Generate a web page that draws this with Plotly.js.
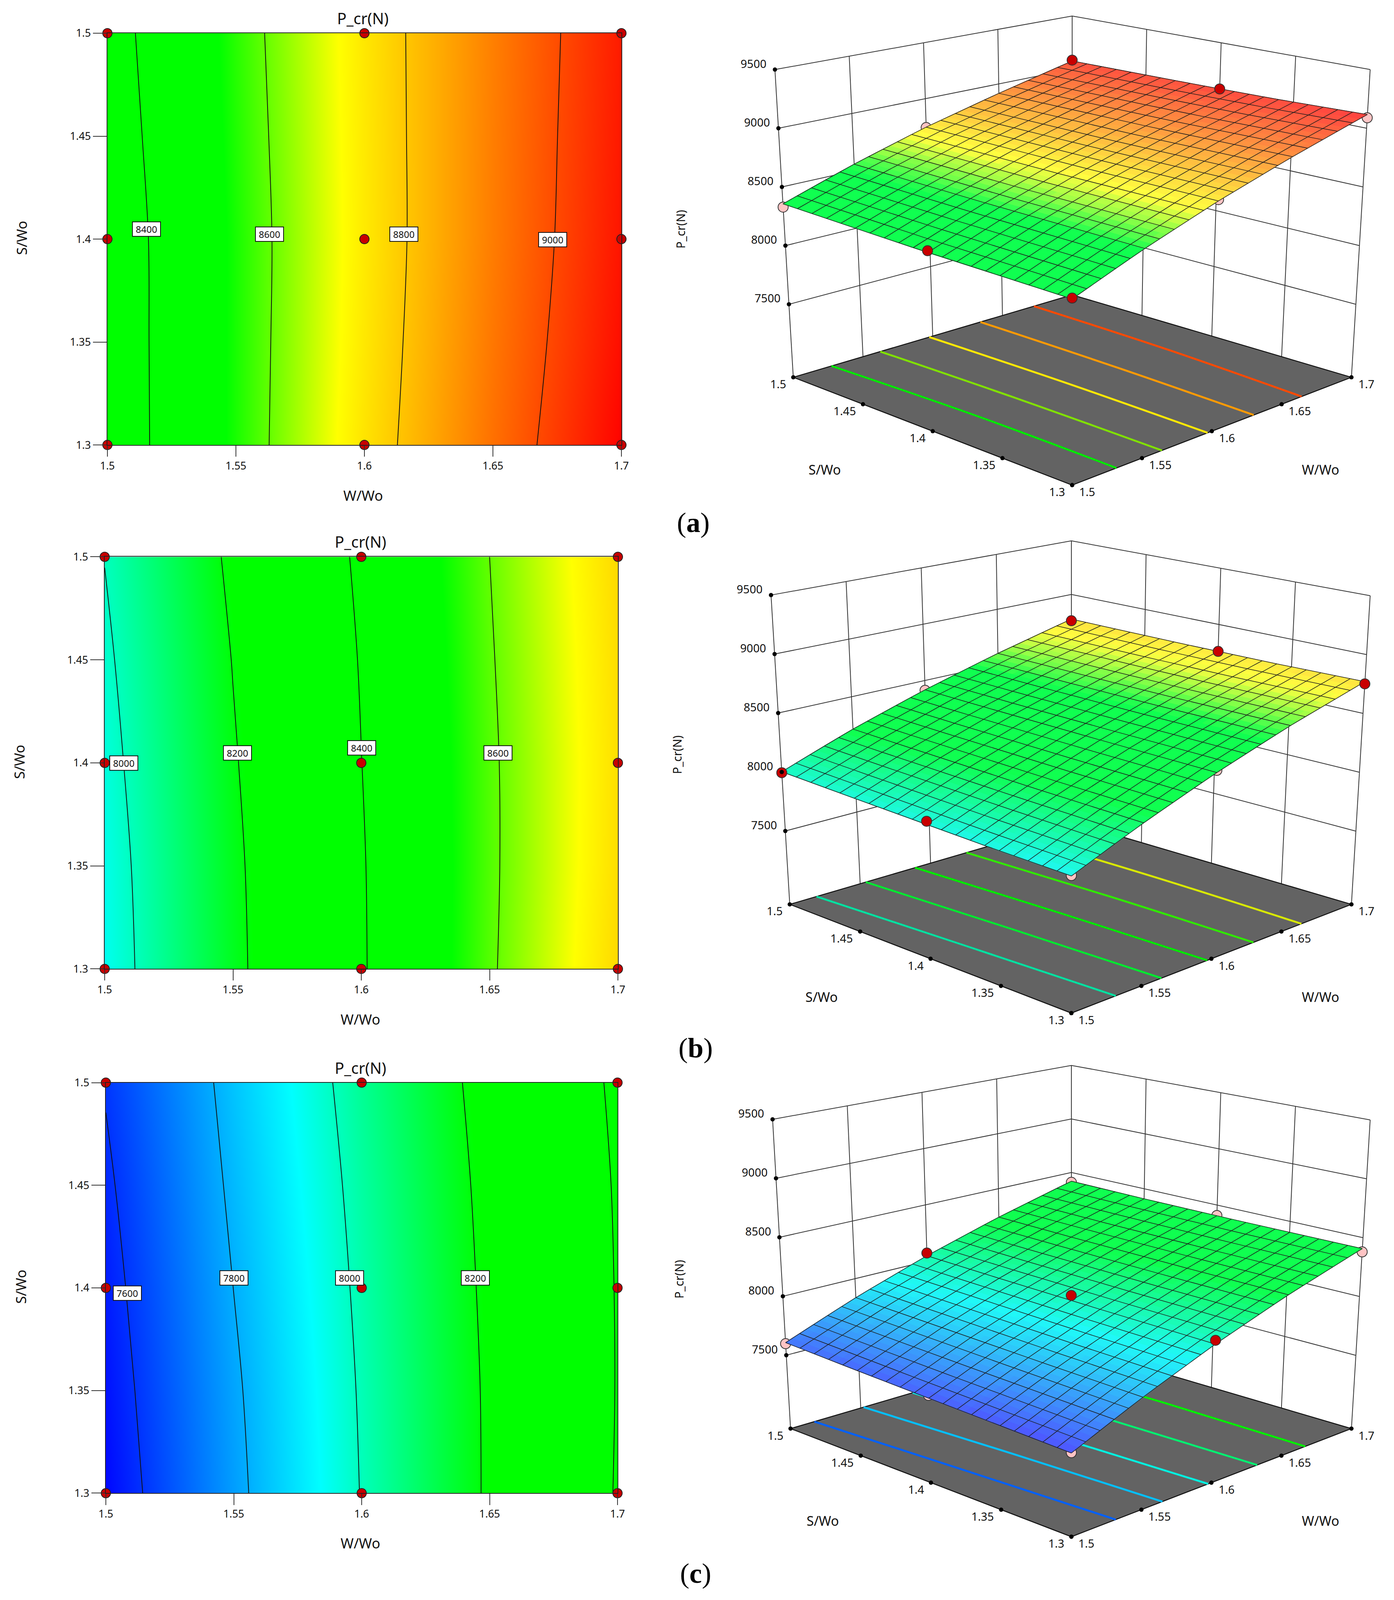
<!DOCTYPE html>
<html>
<head>
<meta charset="utf-8">
<script src="https://cdn.plot.ly/plotly-3.0.1.min.js"></script>
<style>html,body{margin:0;padding:0;background:#fff}</style>
</head>
<body>
<div id="chart"></div>
<script>
const W_GRID = [1.5, 1.55, 1.6, 1.65, 1.7];
const S_GRID = [1.3, 1.35, 1.4, 1.45, 1.5];
const W_TICKS = [1.5, 1.55, 1.6, 1.65, 1.7];
const W_TEXT = ['1.5', '1.55', '1.6', '1.65', '1.7'];
const S_TICKS = [1.3, 1.35, 1.4, 1.45, 1.5];
const S_TEXT = ['1.3', '1.35', '1.4', '1.45', '1.5'];
const Z_TICKS = [7500, 8000, 8500, 9000, 9500];
const Z_TEXT = ['7500', '8000', '8500', '9000', '9500'];
const FLOOR_Z = 6878, TOP_Z = 9500;
const FLOOR_S = [1.3, 1.4, 1.5];

// response, rows are S/Wo, columns W/Wo
const Z_A = [
  [8328, 8547, 8752, 8939, 9117],
  [8330, 8546, 8745, 8928, 9099],
  [8332, 8545, 8741, 8919, 9088],
  [8344, 8551, 8743, 8917, 9082],
  [8356, 8558, 8746, 8914, 9077]
];
const Z_B = [
  [7946, 8175, 8391, 8589, 8770],
  [7953, 8180, 8393, 8586, 8762],
  [7967, 8191, 8399, 8587, 8760],
  [7983, 8203, 8406, 8593, 8763],
  [8002, 8220, 8418, 8600, 8770]
];
const Z_C = [
  [7530, 7773, 8004, 8214, 8407],
  [7546, 7784, 8010, 8215, 8404],
  [7563, 7801, 8020, 8221, 8405],
  [7583, 7819, 8032, 8229, 8409],
  [7607, 7836, 8048, 8241, 8419]
];

const DESIGN_W = [1.5, 1.6, 1.7, 1.5, 1.6, 1.7, 1.5, 1.6, 1.7];
const DESIGN_S = [1.3, 1.3, 1.3, 1.4, 1.4, 1.4, 1.5, 1.5, 1.5];

// design points on the 3D plots: red above the surface, pink below it
const RED_W_A = [1.7, 1.7, 1.5, 1.5];
const RED_S_A = [1.5, 1.4, 1.3, 1.4];
const RED_Z_A = [9085, 9087, 8335, 8347];
const PINK_W_A = [1.5, 1.7, 1.6, 1.6, 1.6];
const PINK_S_A = [1.5, 1.3, 1.5, 1.3, 1.4];
const PINK_Z_A = [8328, 9089, 8742, 8763, 8720];

const RED_W_B = [1.7, 1.7, 1.7, 1.5, 1.5];
const RED_S_B = [1.5, 1.4, 1.3, 1.5, 1.4];
const RED_Z_B = [8755, 8761, 8751, 7994, 7994];
const PINK_W_B = [1.6, 1.6, 1.5, 1.6];
const PINK_S_B = [1.5, 1.3, 1.3, 1.4];
const PINK_Z_B = [8413, 8409, 7950, 8380];

const RED_W_C = [1.6, 1.6, 1.6];
const RED_S_C = [1.5, 1.4, 1.3];
const RED_Z_C = [8072, 8063, 8035];
const PINK_W_C = [1.7, 1.7, 1.7, 1.5, 1.5, 1.5];
const PINK_S_C = [1.5, 1.4, 1.3, 1.5, 1.4, 1.3];
const PINK_Z_C = [8408, 8407, 8379, 7598, 7587, 7533];

// contour lines on the grey floor, W/Wo at S/Wo = 1.3, 1.4, 1.5
const FLOOR_A = [[1.5317, 1.5318, 1.5274], [1.5643, 1.5645, 1.5624], [1.597, 1.5985, 1.5975], [1.63, 1.633, 1.6342], [1.6643, 1.67, 1.6726]];
const FLOOR_COL_A = ['#00e800', '#80e000', '#ffe800', '#ff9a00', '#ff4a00'];
const FLOOR_B = [[1.5317, 1.526, 1.519], [1.5643, 1.56, 1.554], [1.597, 1.594, 1.589], [1.63, 1.629, 1.6255], [1.6643, 1.6655, 1.664]];
const FLOOR_COL_B = ['#00e0a0', '#00e830', '#00e800', '#30e800', '#d8e800'];
const FLOOR_C = [[1.5317, 1.525, 1.517], [1.565, 1.5595, 1.552], [1.5977, 1.593, 1.587], [1.6327, 1.63, 1.626], [1.667, 1.667, 1.665]];
const FLOOR_COL_C = ['#0060ff', '#00c0ff', '#00f0e0', '#00f070', '#00f000'];

const LABELS_A = [['8400', 1.5152, 1.4048], ['8600', 1.563, 1.4023], ['8800', 1.6153, 1.4023], ['9000', 1.6733, 1.3998]];
const LABELS_B = [['8000', 1.5074, 1.3999], ['8200', 1.5518, 1.4049], ['8400', 1.6002, 1.4073], ['8600', 1.6533, 1.4049]];
const LABELS_C = [['7600', 1.5084, 1.3974], ['7800', 1.55, 1.4048], ['8000', 1.5952, 1.4048], ['8200', 1.6444, 1.4048]];

// all y positions below are reference pixels (5106 tall). The window can be shorter
// (the renderer caps it at 4096), so the figure is fitted to it to keep all 3 rows visible.
const PW = 3569, PH = 5106;
const VIEW_H = Math.min(PH, window.innerHeight || PH);
const YS = VIEW_H / PH;
document.getElementById('chart').style.cssText = 'width:' + PW + 'px;height:' + VIEW_H + 'px';
const FONT = 'Noto Sans, Open Sans, sans-serif';
const fx = x => x / PW;
const fy = y => 1 - y / PH;

const CMIN = 7520, CMAX = 9120;
const STOPS = [0, 0.25625, 0.43125, 0.63125, 0.7425, 1];
const COL2D = [[0, 0, 255], [0, 255, 255], [0, 255, 0], [0, 255, 0], [255, 255, 0], [255, 0, 0]];
const COL3D = [[80, 80, 255], [32, 248, 248], [16, 255, 80], [16, 255, 80], [255, 255, 64], [255, 64, 64]];
const toHex = c => 'rgb(' + c.map(Math.round).join(',') + ')';
const MAP2D = STOPS.map((s, i) => [s, toHex(COL2D[i])]);

const panels = [
  { z: Z_A, levels: [8400, 9000], labels: LABELS_A, box: [275, 1591, 106, 1420], title: [929, 58], wt: [929, 1581], st: [56, 759],
    red: [RED_W_A, RED_S_A, RED_Z_A], pink: [PINK_W_A, PINK_S_A, PINK_Z_A], floor: FLOOR_A, floorCol: FLOOR_COL_A,
    // screen corners of the 3D box: near, right, left, far, on the floor and then at the top
    cube: [[2745, 1548], [3460, 1204], [2031, 1204], [2745, 941], [2745, 474], [3508, 222], [1984, 222], [2745, 51]],
    t3: [[2111, 1499], [3381, 1499], [1742, 732]], tag: ['a', 1775, 1668] },
  { z: Z_B, levels: [8000, 8600], labels: LABELS_B, box: [268, 1582, 1777, 3092], title: [923, 1729], wt: [923, 3253], st: [49, 2431],
    red: [RED_W_B, RED_S_B, RED_Z_B], pink: [PINK_W_B, PINK_S_B, PINK_Z_B], floor: FLOOR_B, floorCol: FLOOR_COL_B,
    cube: [[2743, 3233], [3460, 2886], [2022, 2886], [2743, 2623], [2743, 2159], [3508, 1901], [1974, 1899], [2743, 1726]],
    t3: [[2103, 3181], [3381, 3181], [1733, 2409]], tag: ['b', 1781, 3344] },
  { z: Z_C, levels: [7600, 8400], labels: LABELS_C, box: [271, 1581, 3455, 4765], title: [923, 3407], wt: [923, 4925], st: [54, 4106],
    red: [RED_W_C, RED_S_C, RED_Z_C], pink: [PINK_W_C, PINK_S_C, PINK_Z_C], floor: FLOOR_C, floorCol: FLOOR_COL_C,
    cube: [[2743, 4904], [3460, 4559], [2024, 4559], [2743, 4296], [2743, 3830], [3508, 3574], [1978, 3572], [2743, 3400]],
    t3: [[2106, 4853], [3381, 4853], [1738, 4083]], tag: ['c', 1781, 5021] }
];

const traces = [];
const layout = {
  width: PW, height: VIEW_H, margin: { l: 0, r: 0, t: 0, b: 0 }, paper_bgcolor: '#fff', plot_bgcolor: 'rgba(0,0,0,0)',
  showlegend: false, font: { family: FONT, color: '#111' }, annotations: [],
  // hidden axes in reference pixels that carry the projected 3D panels
  xaxis4: { domain: [1700 / PW, 1], range: [1700, PW], visible: false, fixedrange: true, anchor: 'y4' },
  yaxis4: { domain: [0, 1], range: [PH, 0], visible: false, fixedrange: true, anchor: 'x4' }
};

function note(text, x, y, size, extra) {
  layout.annotations.push(Object.assign({ text: text, x: fx(x), y: fy(y), xref: 'paper', yref: 'paper', showarrow: false,
    font: { size: size, family: FONT, color: '#111' }, xanchor: 'center', yanchor: 'middle' }, extra || {}));
}

// gl3d scenes time out in this renderer, so the 3D panels are projected onto 2D axes:
// trilinear map from (W, S, Z) to the screen, through the eight box corners
function project(c, w, s, z) {
  const u = (w - 1.5) / 0.2, v = (s - 1.3) / 0.2, h = (z - FLOOR_Z) / (TOP_Z - FLOOR_Z);
  const at = k => {
    const low = (1 - u) * (1 - v) * c[0][k] + u * (1 - v) * c[1][k] + (1 - u) * v * c[2][k] + u * v * c[3][k];
    const up = (1 - u) * (1 - v) * c[4][k] + u * (1 - v) * c[5][k] + (1 - u) * v * c[6][k] + u * v * c[7][k];
    return low + (up - low) * h;
  };
  return [at(0), at(1)];
}

// only used to shade the surface facets between the grid values
function zAt(grid, w, s) {
  const fu = Math.min((w - 1.5) / 0.05, 3.9999), fv = Math.min((s - 1.3) / 0.05, 3.9999);
  const i = Math.floor(fu), j = Math.floor(fv), a = fu - i, b = fv - j;
  return (1 - a) * (1 - b) * grid[j][i] + a * (1 - b) * grid[j][i + 1] + (1 - a) * b * grid[j + 1][i] + a * b * grid[j + 1][i + 1];
}

function colour3d(z) {
  const t = Math.max(0, Math.min(1, (z - CMIN) / (CMAX - CMIN)));
  let k = 0;
  while (k < STOPS.length - 2 && t > STOPS[k + 1]) k++;
  const f = (t - STOPS[k]) / (STOPS[k + 1] - STOPS[k]);
  return toHex(COL3D[k].map((c, m) => c + (COL3D[k + 1][m] - c) * f));
}

function line3d(xs, ys, pts, cube) {
  pts.forEach(q => { const r = project(cube, q[0], q[1], q[2]); xs.push(r[0]); ys.push(r[1]); });
  xs.push(null); ys.push(null);
}

function add3d(p) {
  const c = p.cube, base = { type: 'scatter', xaxis: 'x4', yaxis: 'y4', hoverinfo: 'skip', cliponaxis: false };
  // back walls
  const gx = [], gy = [];
  W_TICKS.forEach(w => line3d(gx, gy, [[w, 1.5, FLOOR_Z], [w, 1.5, TOP_Z]], c));
  S_TICKS.forEach(s => line3d(gx, gy, [[1.7, s, FLOOR_Z], [1.7, s, TOP_Z]], c));
  Z_TICKS.forEach(z => line3d(gx, gy, [[1.5, 1.5, z], [1.7, 1.5, z], [1.7, 1.3, z]], c));
  traces.push(Object.assign({}, base, { mode: 'lines', x: gx, y: gy, line: { color: '#333', width: 2 } }));
  // floor
  const fxs = [], fys = [];
  line3d(fxs, fys, [[1.5, 1.3, FLOOR_Z], [1.7, 1.3, FLOOR_Z], [1.7, 1.5, FLOOR_Z], [1.5, 1.5, FLOOR_Z], [1.5, 1.3, FLOOR_Z]], c);
  traces.push(Object.assign({}, base, { mode: 'lines', x: fxs, y: fys, fill: 'toself', fillcolor: '#636363', line: { color: '#111', width: 2.5 } }));
  p.floor.forEach((ln, k) => {
    const lx = [], ly = [];
    line3d(lx, ly, ln.map((w, m) => [w, FLOOR_S[m], FLOOR_Z]), c);
    traces.push(Object.assign({}, base, { mode: 'lines', x: lx, y: ly, line: { color: p.floorCol[k], width: 5, shape: 'spline' } }));
  });
  const mark = (d, col) => {
    const q = d[0].map((w, m) => project(c, w, d[1][m], d[2][m]));
    return Object.assign({}, base, { mode: 'markers', x: q.map(r => r[0]), y: q.map(r => r[1]), marker: { color: col, size: 26, line: { color: '#333', width: 2 } } });
  };
  traces.push(mark(p.pink, '#ffc4c4'));
  // surface: small facets binned by colour, then the 20 x 20 mesh on top
  const N = 40, bins = new Map();
  const w = i => 1.5 + 0.2 * i / N, s = j => 1.3 + 0.2 * j / N;
  for (let i = 0; i < N; i++) for (let j = 0; j < N; j++) {
    const key = Math.round(zAt(p.z, (w(i) + w(i + 1)) / 2, (s(j) + s(j + 1)) / 2) / 12) * 12;
    if (!bins.has(key)) bins.set(key, { x: [], y: [] });
    const b = bins.get(key);
    line3d(b.x, b.y, [[i, j], [i + 1, j], [i + 1, j + 1], [i, j + 1], [i, j]].map(q => [w(q[0]), s(q[1]), zAt(p.z, w(q[0]), s(q[1]))]), c);
  }
  bins.forEach((b, key) => {
    const col = colour3d(key);
    traces.push(Object.assign({}, base, { mode: 'lines', x: b.x, y: b.y, fill: 'toself', fillcolor: col, line: { color: col, width: 1.5 } }));
  });
  const mx = [], my = [];
  for (let i = 0; i <= N; i += 2) {
    const a = [], b = [];
    for (let j = 0; j <= N; j += 2) {
      a.push([w(i), s(j), zAt(p.z, w(i), s(j))]);
      b.push([w(j), s(i), zAt(p.z, w(j), s(i))]);
    }
    line3d(mx, my, a, c);
    line3d(mx, my, b, c);
  }
  traces.push(Object.assign({}, base, { mode: 'lines', x: mx, y: my, line: { color: '#1c1c1c', width: 1.5 } }));
  traces.push(mark(p.red, '#c80000'));
  // tick dots and tick labels on the labelled edges
  const dots = [], tick = (pt, text, anchor, dx, dy) => {
    const r = project(c, pt[0], pt[1], pt[2]);
    dots.push(r);
    layout.annotations.push({ text: text, x: r[0], y: r[1], xref: 'x4', yref: 'y4', showarrow: false, xanchor: anchor, yanchor: 'middle', xshift: dx, yshift: dy * YS,
      font: { size: 29, family: FONT, color: '#111' } });
  };
  W_TICKS.forEach((v, i) => tick([v, 1.3, FLOOR_Z], W_TEXT[i], 'left', 16, -21));
  S_TICKS.forEach((v, i) => tick([1.5, v, FLOOR_Z], S_TEXT[i], 'right', -16, -21));
  Z_TICKS.forEach((v, i) => tick([1.5, 1.5, v], Z_TEXT[i], 'right', -20, 20));
  traces.push(Object.assign({}, base, { mode: 'markers', x: dots.map(r => r[0]), y: dots.map(r => r[1]), marker: { color: '#000', size: 11 } }));
  note('S/Wo', p.t3[0][0], p.t3[0][1], 34);
  note('W/Wo', p.t3[1][0], p.t3[1][1], 34);
  note('P_cr(N)', p.t3[2][0], p.t3[2][1], 30, { textangle: -90 });
}

panels.forEach((p, i) => {
  const n = i === 0 ? '' : String(i + 1);
  const xa = 'x' + n, ya = 'y' + n;
  traces.push({ type: 'heatmap', x: W_GRID, y: S_GRID, z: p.z, xaxis: xa, yaxis: ya, zsmooth: 'best', colorscale: MAP2D, zmin: CMIN, zmax: CMAX, showscale: false, hoverinfo: 'skip' });
  traces.push({ type: 'contour', x: W_GRID, y: S_GRID, z: p.z, xaxis: xa, yaxis: ya, showscale: false, hoverinfo: 'skip',
    contours: { coloring: 'none', start: p.levels[0], end: p.levels[1], size: 200 }, line: { color: '#111', width: 2, smoothing: 1 } });
  traces.push({ type: 'scatter', mode: 'markers', x: DESIGN_W, y: DESIGN_S, xaxis: xa, yaxis: ya, cliponaxis: false, hoverinfo: 'skip',
    marker: { color: '#c80000', size: 24, line: { color: '#222', width: 2 } } });
  const axis = (dom, vals, text, range, other) => ({ domain: dom, range: range, tickvals: vals, ticktext: text, ticks: 'outside', ticklen: 35 * (other === ya ? YS : 1), tickwidth: 2, tickcolor: '#333',
    tickfont: { size: 27, family: FONT, color: '#111' }, showgrid: false, zeroline: false, showline: true, linecolor: '#222', linewidth: 2, mirror: true, anchor: other });
  layout['xaxis' + n] = axis([fx(p.box[0]), fx(p.box[1])], W_TICKS, W_TEXT, [1.5, 1.7], ya);
  layout['yaxis' + n] = axis([fy(p.box[3]), fy(p.box[2])], S_TICKS, S_TEXT, [1.3, 1.5], xa);
  p.labels.forEach(l => {
    layout.annotations.push({ text: l[0], x: l[1], y: l[2], xref: xa, yref: ya, showarrow: false, bgcolor: '#fff', bordercolor: '#111', borderwidth: 2, borderpad: 1, width: 68,
      font: { size: 24, family: FONT, color: '#111' } });
  });
  note('P_cr(N)', p.title[0], p.title[1], 40);
  note('W/Wo', p.wt[0], p.wt[1], 36);
  note('S/Wo', p.st[0], p.st[1], 36, { textangle: -90 });
  note('(<b>' + p.tag[0] + '</b>)', p.tag[1], p.tag[2], 72, { font: { size: 72, family: 'Liberation Serif, serif', color: '#000' } });
  add3d(p);
});

Plotly.newPlot('chart', traces, layout, { displayModeBar: false });
</script>
</body>
</html>
